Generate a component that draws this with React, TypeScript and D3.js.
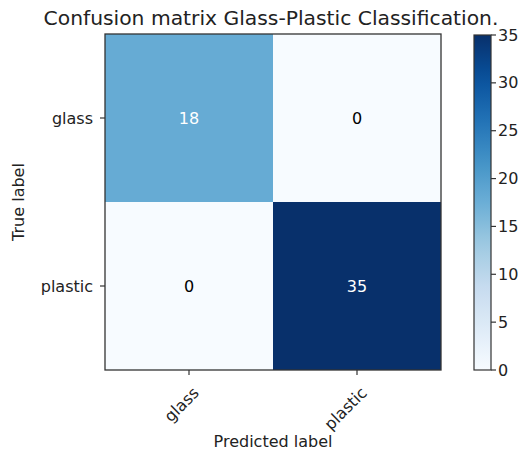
import React from "react";
import * as d3 from "d3";

const classes = ["glass", "plastic"];
const matrix = [
  [18, 0],
  [0, 35],
];
const cbTicks = [0, 5, 10, 15, 20, 25, 30, 35];
const title = "Confusion matrix Glass-Plastic Classification.";
const blues = ["#f7fbff", "#deebf7", "#c6dbef", "#9ecae1", "#6baed6", "#4292c6", "#2171b5", "#08519c", "#08306b"];

export default function App() {
  const W = 523, H = 457;
  const left = 105, top = 34, size = 336;
  const font = "DejaVu Sans, sans-serif";
  const maxV = d3.max(matrix.flat()) as number;
  const x = d3.scaleBand<string>().domain(classes).range([left, left + size]);
  const y = d3.scaleBand<string>().domain(classes).range([top, top + size]);
  const color = d3.scaleLinear<string>().domain(blues.map((_, i) => (i / (blues.length - 1)) * maxV)).range(blues).clamp(true);
  const cbX = 474, cbW = 17, cbTop = 35, cbBot = 370;
  const cbY = d3.scaleLinear().domain([0, maxV]).range([cbBot, cbTop]);
  const stops = d3.range(0, 1.0001, 0.05);
  const thresh = maxV / 2;
  return (
    <svg width={W} height={H} style={{ position: "absolute", left: 0, top: 0 }} fontFamily={font}>
      <defs>
        <linearGradient id="cb" x1="0" y1="1" x2="0" y2="0">
          {stops.map((s) => (
            <stop key={s} offset={s} stopColor={color(s * maxV)} />
          ))}
        </linearGradient>
      </defs>
      <rect width={W} height={H} fill="#fff" />
      <text x={271} y={25} textAnchor="middle" fontSize={20.3} fill="#222">{title}</text>
      {matrix.map((row, i) =>
        row.map((v, j) => (
          <rect key={`${i}-${j}`} x={x(classes[j])} y={y(classes[i])} width={x.bandwidth()} height={y.bandwidth()} fill={color(v)} />
        ))
      )}
      {matrix.map((row, i) =>
        row.map((v, j) => (
          <text key={`t${i}-${j}`} x={(x(classes[j]) as number) + x.bandwidth() / 2} y={(y(classes[i]) as number) + y.bandwidth() / 2} dy="0.35em" textAnchor="middle" fontSize={16} fill={v > thresh ? "#fff" : "#000"}>{v}</text>
        ))
      )}
      <rect x={left} y={top} width={size} height={size} fill="none" stroke="#333" strokeWidth={1.3} />
      {classes.map((c) => {
        const cy = (y(c) as number) + y.bandwidth() / 2;
        return (
          <g key={"y" + c}>
            <line x1={left - 5} x2={left} y1={cy} y2={cy} stroke="#333" strokeWidth={1.2} />
            <text x={left - 12} y={cy} dy="0.35em" textAnchor="end" fontSize={16} fill="#222">{c}</text>
          </g>
        );
      })}
      {classes.map((c) => {
        const cx = (x(c) as number) + x.bandwidth() / 2;
        return (
          <g key={"x" + c}>
            <line x1={cx} x2={cx} y1={top + size} y2={top + size + 5} stroke="#333" strokeWidth={1.2} />
            <text transform={`translate(${cx + 3},${top + size + 16}) rotate(-45)`} textAnchor="end" dy="0.7em" fontSize={16} fill="#222">{c}</text>
          </g>
        );
      })}
      <text transform={`translate(24,${top + size / 2}) rotate(-90)`} textAnchor="middle" fontSize={16} fill="#222">True label</text>
      <text x={left + size / 2} y={447} textAnchor="middle" fontSize={16} fill="#222">Predicted label</text>
      <rect x={cbX} y={cbTop} width={cbW} height={cbBot - cbTop} fill="url(#cb)" stroke="#333" strokeWidth={1.2} />
      {cbTicks.map((t) => (
        <g key={"cb" + t}>
          <line x1={cbX + cbW} x2={cbX + cbW + 5} y1={cbY(t)} y2={cbY(t)} stroke="#333" strokeWidth={1.2} />
          <text x={cbX + cbW + 7} y={cbY(t)} dy="0.35em" fontSize={16} fill="#222">{t}</text>
        </g>
      ))}
    </svg>
  );
}
